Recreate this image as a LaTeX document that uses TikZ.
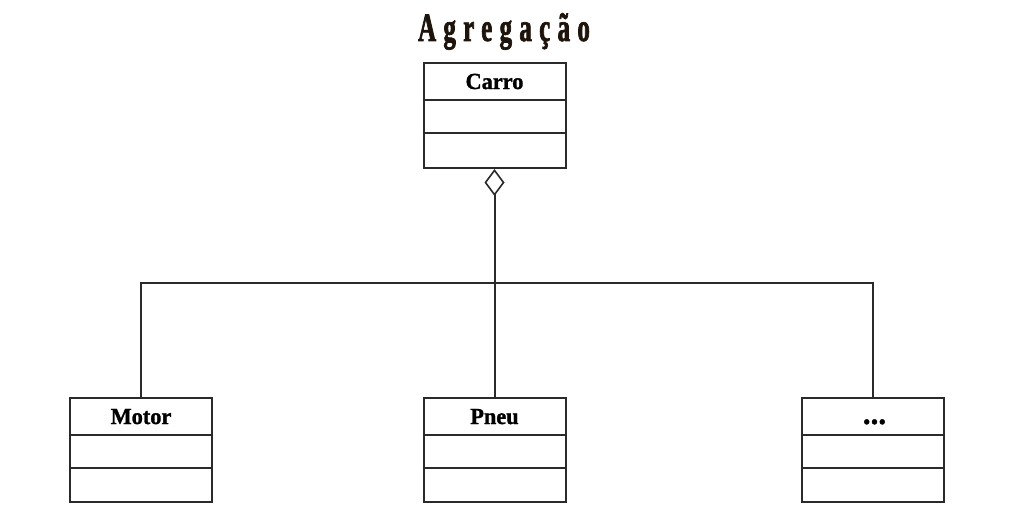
\documentclass[tikz,border=0pt]{standalone}
\usepackage{fontspec}
\setmainfont{Liberation Serif}
\newfontfamily\titlefont{Liberation Serif}[UprightFont=* Bold, FakeStretch=0.62, LetterSpace=18.5, FakeBold=1.8]
\newfontfamily\labelfont{Liberation Serif}[UprightFont=* Bold, FakeStretch=0.97, FakeBold=1.2]
\usetikzlibrary{arrows.meta}
\definecolor{linec}{HTML}{2A2A2A}
\definecolor{titlec}{HTML}{1E140C}
\tikzset{
  cls/.style={draw=linec, line width=2pt, minimum width=142pt, minimum height=104pt, inner sep=0pt, fill=white},
  lbl/.style={font=\labelfont\fontsize{23}{23}\selectfont, inner sep=0pt, anchor=base},
  conn/.style={draw=linec, line width=2pt},
}
\begin{document}
\begin{tikzpicture}[x=1pt,y=-1pt]
\useasboundingbox (0,0) rectangle (1016,519);
% title
\node[font=\titlefont\fontsize{40}{40}\selectfont, text=titlec, anchor=base, inner sep=0pt] (title) at (504,41) {Agregação};
% classes
\node[cls, minimum height=105pt] (carro) at (494.5,115.5) {};
\node[cls] (motor) at (141,450) {};
\node[cls] (pneu) at (494.5,450) {};
\node[cls] (dots) at (872.5,450) {};
% dividers
\foreach \n in {carro,motor,pneu,dots}{
  \draw[conn] ([yshift=-38pt]\n.north west) -- ([yshift=-38pt]\n.north east);
  \draw[conn] ([yshift=-71pt]\n.north west) -- ([yshift=-71pt]\n.north east);
}
% labels
\node[lbl] (carrol) at ([yshift=-27pt]carro.north) {Carro};
\node[lbl] (motorl) at ([yshift=-27pt]motor.north) {Motor};
\node[lbl] (pneul) at ([yshift=-27pt]pneu.north) {Pneu};
\node[lbl, font=\labelfont\fontsize{32}{32}\selectfont] (dotsl) at ([xshift=2pt,yshift=-27pt]dots.north) {...};
% connectors
\coordinate (bus) at (494.5,283);
\draw[conn, {Diamond[open, width=20pt, length=27pt, line width=1.6pt, fill=white]}-] (carro.south) -- (pneu.north);
\draw[conn, line join=miter] (motor.north) -- (motor.north |- bus) -- (dots.north |- bus) -- (dots.north);
\end{tikzpicture}
\end{document}
